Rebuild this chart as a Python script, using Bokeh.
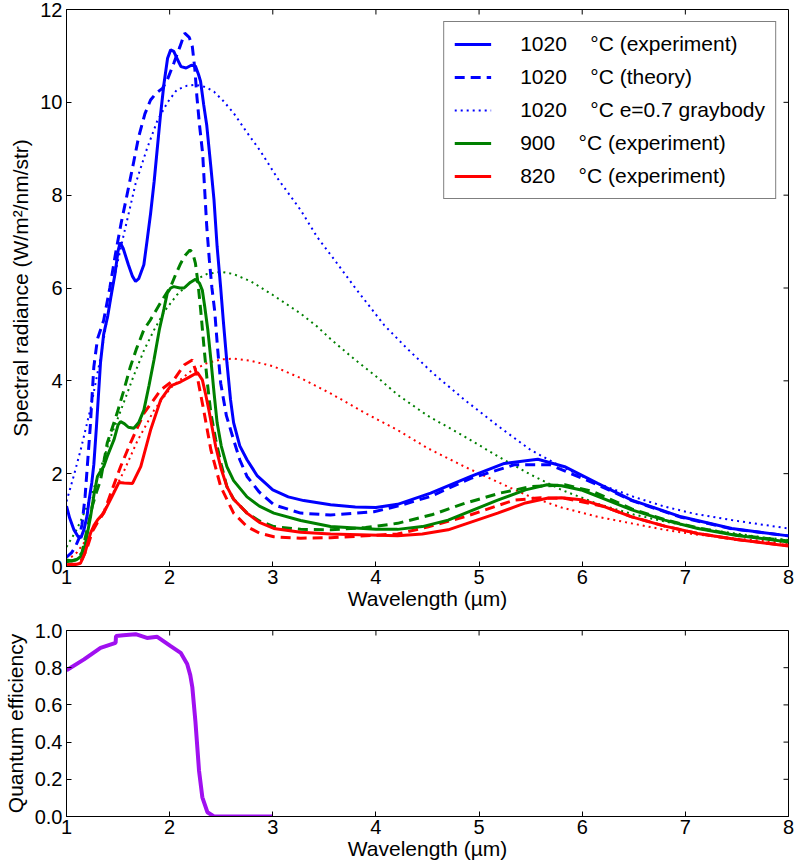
import math
from bokeh.plotting import figure
from bokeh.models import FixedTicker, PrintfTickFormatter, Range1d
from bokeh.layouts import column
from bokeh.embed import file_html
from bokeh.resources import INLINE

# ---------------- data ----------------
# 1020 C experiment
b_exp_x = [1.0, 1.03, 1.07, 1.11, 1.14, 1.17, 1.2, 1.22, 1.245, 1.265, 1.29, 1.31, 1.33, 1.36, 1.4,
           1.43, 1.47, 1.5, 1.52, 1.55, 1.6, 1.64, 1.67, 1.7, 1.75, 1.78, 1.815, 1.85, 1.88, 1.91,
           1.945, 1.98, 2.01, 2.04, 2.07, 2.11, 2.16, 2.21, 2.25, 2.28, 2.3, 2.33, 2.36, 2.4, 2.43,
           2.46, 2.495, 2.52, 2.555, 2.59, 2.62, 2.68, 2.75, 2.85, 3.0, 3.15, 3.3, 3.56, 3.8, 4.0,
           4.21, 4.53, 4.92, 5.245, 5.57, 5.83, 6.15, 6.48, 6.96, 7.45, 8.0]
b_exp_y = [1.3, 1.05, 0.8, 0.65, 0.62, 0.8, 1.1, 1.45, 1.8, 2.2, 3.0, 3.7, 4.4, 5.0, 5.4,
           5.8, 6.3, 6.8, 6.98, 6.85, 6.5, 6.25, 6.14, 6.2, 6.5, 7.0, 7.6, 8.3, 9.0, 9.7,
           10.4, 10.95, 11.13, 11.1, 10.95, 10.77, 10.74, 10.8, 10.78, 10.6, 10.45, 9.95, 9.5, 8.6, 7.9,
           6.9, 6.0, 5.3, 4.4, 3.6, 3.1, 2.6, 2.3, 1.95, 1.65, 1.5, 1.42, 1.33, 1.28, 1.27,
           1.34, 1.58, 1.94, 2.22, 2.31, 2.15, 1.79, 1.43, 1.07, 0.82, 0.66]

# 1020 C theory
b_th_x = [1.0, 1.05, 1.087, 1.12, 1.15, 1.18, 1.2, 1.23, 1.265, 1.3, 1.36, 1.42, 1.476, 1.53, 1.59,
          1.65, 1.7, 1.76, 1.815, 1.87, 1.93, 1.98, 2.04, 2.1, 2.146, 2.19, 2.22, 2.245, 2.264, 2.29,
          2.32, 2.34, 2.36, 2.385, 2.41, 2.437, 2.465, 2.495, 2.55, 2.62, 2.68, 2.75, 2.87, 3.01, 3.27,
          3.56, 3.98, 4.21, 4.53, 4.92, 5.34, 5.69, 6.15, 6.48, 6.96, 7.45, 8.0]
b_th_y = [0.2, 0.3, 0.43, 0.6, 0.9, 1.5, 2.1, 3.0, 4.3, 4.9, 5.3, 6.0, 6.75, 7.4, 8.04,
          8.7, 9.26, 9.75, 10.05, 10.2, 10.3, 10.5, 10.84, 11.2, 11.49, 11.4, 11.2, 10.7, 10.13, 9.5,
          8.9, 8.1, 7.32, 6.6, 6.0, 5.5, 4.7, 3.95, 3.25, 2.73, 2.3, 1.94, 1.6, 1.33, 1.15,
          1.11, 1.18, 1.3, 1.51, 1.9, 2.19, 2.19, 1.76, 1.42, 1.06, 0.81, 0.66]

# 1020 C e=0.7 graybody
b_gb_x = [1.0, 1.07, 1.136, 1.233, 1.33, 1.46, 1.55, 1.67, 1.78, 1.88, 1.98, 2.07, 2.17, 2.25, 2.35,
          2.43, 2.52, 2.62, 2.75, 2.88, 3.05, 3.27, 3.43, 3.6, 3.8, 4.08, 4.3, 4.56, 4.86, 5.2,
          5.5, 5.8, 6.15, 6.5, 6.8, 7.1, 7.45, 7.75, 8.0]
b_gb_y = [1.4, 1.95, 2.5, 3.4, 4.5, 6.2, 7.1, 8.25, 9.0, 9.6, 10.0, 10.27, 10.36, 10.38, 10.33,
          10.23, 10.03, 9.77, 9.35, 8.95, 8.35, 7.68, 7.1, 6.6, 6.0, 5.2, 4.7, 4.15, 3.59, 3.0,
          2.51, 2.15, 1.79, 1.5, 1.29, 1.13, 1.0, 0.9, 0.82]

# 900 C experiment
g_exp_x = [1.0, 1.05, 1.1, 1.136, 1.18, 1.233, 1.27, 1.3, 1.33, 1.36, 1.4, 1.46, 1.5, 1.524, 1.56,
           1.6, 1.653, 1.7, 1.75, 1.8, 1.848, 1.9, 1.945, 1.977, 2.01, 2.04, 2.1, 2.14, 2.2, 2.25,
           2.29, 2.317, 2.34, 2.37, 2.4, 2.43, 2.46, 2.5, 2.555, 2.62, 2.75, 2.87, 3.01, 3.27, 3.56,
           4.0, 4.21, 4.45, 4.7, 5.18, 5.45, 5.66, 5.8, 5.99, 6.2, 6.48, 6.8, 7.12, 7.5, 8.0]
g_exp_y = [0.14, 0.12, 0.15, 0.21, 0.45, 1.07, 1.6, 1.94, 2.05, 2.15, 2.4, 2.73, 3.05, 3.12, 3.08,
           3.0, 2.98, 3.1, 3.37, 3.9, 4.45, 5.1, 5.55, 5.89, 6.0, 6.03, 6.0, 6.0, 6.12, 6.19,
           6.1, 5.95, 5.6, 5.1, 4.45, 3.75, 3.1, 2.6, 2.15, 1.85, 1.5, 1.3, 1.15, 0.99, 0.86,
           0.8, 0.8, 0.86, 1.0, 1.43, 1.65, 1.76, 1.74, 1.65, 1.47, 1.22, 1.0, 0.82, 0.67, 0.53]

# 900 C theory
g_th_x = [1.0, 1.1, 1.15, 1.2, 1.25, 1.29, 1.33, 1.395, 1.49, 1.55, 1.62, 1.68, 1.75, 1.81, 1.85,
          1.93, 2.01, 2.06, 2.107, 2.15, 2.197, 2.225, 2.25, 2.275, 2.3, 2.33, 2.366, 2.4, 2.447, 2.5,
          2.555, 2.62, 2.75, 2.87, 3.01, 3.27, 3.56, 3.9, 4.21, 4.55, 4.86, 5.2, 5.5, 5.83, 6.1,
          6.48, 6.8, 7.12, 7.5, 8.0]
g_th_y = [0.1, 0.15, 0.3, 0.8, 1.3, 1.6, 1.86, 2.66, 3.3, 3.75, 4.31, 4.7, 5.1, 5.3, 5.45,
          5.75, 6.03, 6.3, 6.53, 6.7, 6.82, 6.75, 6.53, 6.1, 5.55, 4.8, 3.95, 3.3, 2.73, 2.2,
          1.72, 1.45, 1.15, 0.98, 0.86, 0.8, 0.79, 0.84, 0.93, 1.12, 1.36, 1.58, 1.72, 1.76, 1.62,
          1.24, 1.01, 0.83, 0.68, 0.55]

# 900 C graybody
g_gb_x = [1.0, 1.1, 1.2, 1.3, 1.43, 1.55, 1.65, 1.75, 1.85, 1.95, 2.07, 2.2, 2.36, 2.5, 2.62,
          2.79, 3.0, 3.27, 3.43, 3.56, 3.8, 4.0, 4.21, 4.5, 4.86, 5.2, 5.5, 5.8, 6.15, 6.5,
          6.8, 7.1, 7.45, 7.75, 8.0]
g_gb_y = [0.42, 0.8, 1.3, 1.9, 2.8, 3.5, 4.1, 4.65, 5.1, 5.5, 5.85, 6.12, 6.3, 6.35, 6.3,
          6.14, 5.85, 5.45, 5.17, 4.9, 4.45, 4.1, 3.7, 3.25, 2.8, 2.35, 1.98, 1.65, 1.35, 1.12,
          0.97, 0.84, 0.72, 0.63, 0.57]

# 820 C experiment
r_exp_x = [1.0, 1.05, 1.1, 1.136, 1.18, 1.233, 1.27, 1.3, 1.36, 1.44, 1.508, 1.56, 1.64, 1.72, 1.815,
           1.913, 2.01, 2.107, 2.19, 2.27, 2.317, 2.35, 2.38, 2.447, 2.5, 2.555, 2.62, 2.75, 2.87, 3.01,
           3.27, 3.56, 4.21, 4.45, 4.7, 5.18, 5.45, 5.66, 5.8, 5.99, 6.2, 6.48, 6.8, 7.12, 7.5, 8.0]
r_exp_y = [0.04, 0.05, 0.05, 0.07, 0.3, 0.72, 0.9, 1.0, 1.15, 1.5, 1.81, 1.8, 1.79, 2.15, 2.94,
           3.59, 3.89, 3.98, 4.08, 4.18, 4.02, 3.7, 3.37, 2.58, 2.1, 1.72, 1.45, 1.15, 0.95, 0.82,
           0.74, 0.7, 0.66, 0.7, 0.79, 1.15, 1.37, 1.47, 1.48, 1.44, 1.3, 1.07, 0.87, 0.71, 0.58, 0.44]

# 820 C theory
r_th_x = [1.0, 1.1, 1.15, 1.2, 1.25, 1.3, 1.36, 1.43, 1.524, 1.62, 1.75, 1.913, 2.04, 2.14, 2.22,
          2.264, 2.33, 2.4, 2.495, 2.62, 2.75, 2.87, 3.01, 3.27, 3.56, 4.21, 4.5, 4.86, 5.34, 5.6,
          5.83, 6.2, 6.48, 6.8, 7.12, 7.5, 8.0]
r_th_y = [0.02, 0.04, 0.15, 0.4, 0.75, 0.95, 1.15, 1.58, 2.15, 2.66, 3.3, 3.8, 4.02, 4.34, 4.45,
          4.13, 3.37, 2.51, 1.72, 1.15, 0.86, 0.72, 0.64, 0.61, 0.62, 0.7, 0.85, 1.07, 1.43, 1.48,
          1.47, 1.3, 1.07, 0.87, 0.71, 0.58, 0.45]

# 820 C graybody
r_gb_x = [1.0, 1.1, 1.2, 1.3, 1.4, 1.556, 1.686, 1.85, 2.01, 2.2, 2.36, 2.5, 2.62, 2.79, 3.01,
          3.27, 3.56, 3.9, 4.21, 4.5, 4.86, 5.2, 5.5, 5.8, 6.15, 6.5, 6.8, 7.1, 7.45, 7.75, 8.0]
r_gb_y = [0.12, 0.3, 0.6, 0.95, 1.35, 2.05, 2.7, 3.37, 3.85, 4.2, 4.38, 4.46, 4.48, 4.43, 4.31,
          4.06, 3.73, 3.3, 2.94, 2.55, 2.15, 1.8, 1.5, 1.27, 1.07, 0.92, 0.79, 0.69, 0.61, 0.55, 0.5]

# detector quantum efficiency
qe_x = [1.0, 1.17, 1.33, 1.476, 1.48, 1.55, 1.67, 1.78, 1.88, 2.01, 2.107, 2.17, 2.2, 2.22, 2.25,
        2.285, 2.317, 2.366, 2.43, 3.0]
qe_y = [0.786, 0.845, 0.907, 0.934, 0.97, 0.975, 0.98, 0.96, 0.966, 0.916, 0.88, 0.82, 0.76, 0.695, 0.51,
        0.246, 0.103, 0.023, 0.0, 0.0]

x_ticks = [1, 2, 3, 4, 5, 6, 7, 8]
top_y_ticks = [0, 2, 4, 6, 8, 10, 12]
qe_y_ticks = [0.0, 0.2, 0.4, 0.6, 0.8, 1.0]

NB = "\u00a0"
legend_labels = ["1020" + NB * 4 + "°C (experiment)",
                 "1020" + NB * 4 + "°C (theory)",
                 "1020" + NB * 4 + "°C e=0.7 graybody",
                 "900" + NB * 4 + "°C (experiment)",
                 "820" + NB * 4 + "°C (experiment)"]

# ---------------- styling ----------------
FONT = "Liberation Sans"
BLUE = "#0000ff"
GREEN = "#008000"
RED = "#ff0000"
PURPLE = "#a010f0"
TICK_FS = "20px"
LABEL_FS = "21px"


def style(p, xt, yt, ylabel, yfmt=None):
    p.outline_line_color = "black"
    p.outline_line_width = 1
    p.xgrid.visible = False
    p.ygrid.visible = False
    p.xaxis.ticker = FixedTicker(ticks=xt)
    p.yaxis.ticker = FixedTicker(ticks=yt)
    if yfmt:
        p.yaxis.formatter = PrintfTickFormatter(format=yfmt)
    p.xaxis.axis_label = "Wavelength (µm)"
    p.yaxis.axis_label = ylabel
    for ax in (p.xaxis[0], p.yaxis[0]):
        ax.major_tick_in = 5
        ax.major_tick_out = 0
        ax.minor_tick_line_color = None
        ax.major_label_text_font = FONT
        ax.major_label_text_font_size = TICK_FS
        ax.major_label_text_color = "black"
        ax.axis_label_text_font = FONT
        ax.axis_label_text_font_size = LABEL_FS
        ax.axis_label_text_font_style = "normal"
        ax.axis_label_text_color = "black"
        ax.axis_line_color = "black"
        ax.major_tick_line_color = "black"
    p.xaxis.major_label_standoff = 3
    p.xaxis.axis_label_standoff = 0
    p.yaxis.major_label_standoff = 4
    p.yaxis.axis_label_standoff = 5
    # mirrored inward ticks on the top and right frame edges
    xr, yr = p.x_range, p.y_range
    p.ray(x=xt, y=[yr.end] * len(xt), length=5, length_units="screen",
          angle=-math.pi / 2, line_color="black", line_width=1)
    p.ray(x=[xr.end] * len(yt), y=yt, length=5, length_units="screen",
          angle=math.pi, line_color="black", line_width=1)


# ---------------- top: spectral radiance ----------------
p1 = figure(width=796, height=616, output_backend="svg", toolbar_location=None,
            x_range=Range1d(1, 8), y_range=Range1d(0, 12),
            min_border_left=66, min_border_right=8, min_border_top=9, min_border_bottom=50)
p1.background_fill_color = "white"
p1.border_fill_color = "white"

SOLID_W = 3
DASH_W = 3
DOT_W = 2
DASH = "10 6"
DOT = "2 4"

p1.line(g_gb_x, g_gb_y, line_color=GREEN, line_width=DOT_W, line_dash=DOT)
p1.line(r_gb_x, r_gb_y, line_color=RED, line_width=DOT_W, line_dash=DOT)
p1.line(g_th_x, g_th_y, line_color=GREEN, line_width=DASH_W, line_dash=DASH)
p1.line(r_th_x, r_th_y, line_color=RED, line_width=DASH_W, line_dash=DASH)

p1.line(b_exp_x, b_exp_y, line_color=BLUE, line_width=SOLID_W, legend_label=legend_labels[0])
p1.line(b_th_x, b_th_y, line_color=BLUE, line_width=DASH_W, line_dash=DASH, legend_label=legend_labels[1])
p1.line(b_gb_x, b_gb_y, line_color=BLUE, line_width=DOT_W, line_dash=DOT, legend_label=legend_labels[2])
p1.line(g_exp_x, g_exp_y, line_color=GREEN, line_width=SOLID_W, legend_label=legend_labels[3])
p1.line(r_exp_x, r_exp_y, line_color=RED, line_width=SOLID_W, legend_label=legend_labels[4])

style(p1, x_ticks, top_y_ticks, "Spectral radiance (W/m²/nm/str)")

lg = p1.legend[0]
lg.location = "top_right"
lg.margin = 12
lg.padding = 10
lg.spacing = 9
lg.glyph_width = 37
lg.glyph_height = 22
lg.label_height = 22
lg.label_standoff = 29
lg.label_text_font = FONT
lg.label_text_font_size = "21px"
lg.label_text_color = "black"
lg.border_line_color = "black"
lg.border_line_width = 1
lg.background_fill_color = "white"
lg.background_fill_alpha = 1.0

# ---------------- bottom: quantum efficiency ----------------
p2 = figure(width=796, height=247, output_backend="svg", toolbar_location=None,
            x_range=Range1d(1, 8), y_range=Range1d(0, 1),
            min_border_left=66, min_border_right=8, min_border_top=14, min_border_bottom=47)
p2.background_fill_color = "white"
p2.border_fill_color = "white"
p2.line(qe_x, qe_y, line_color=PURPLE, line_width=4)
style(p2, x_ticks, qe_y_ticks, "Quantum efficiency", yfmt="%.1f")

layout = column(p1, p2, spacing=0)

open("out.html", "w").write(file_html(layout, INLINE))
